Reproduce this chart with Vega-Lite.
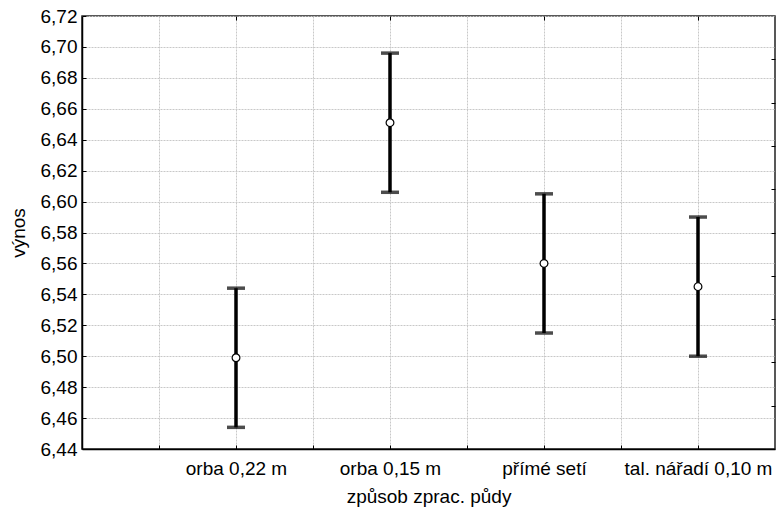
{
  "$schema": "https://vega.github.io/schema/vega-lite/v6.json",
  "autosize": {"type": "none"},
  "width": 693,
  "height": 433,
  "padding": {"left": 82, "top": 16, "right": 3, "bottom": 62},
  "background": "white",
  "config": {
    "font": "Liberation Sans",
    "view": {"stroke": "#222", "strokeWidth": 1.5},
    "axis": {
      "labelFont": "Liberation Sans",
      "titleFont": "Liberation Sans",
      "labelFontSize": 19,
      "titleFontSize": 19,
      "labelFontWeight": "normal",
      "titleFontWeight": "normal",
      "labelColor": "#000",
      "titleColor": "#000",
      "domainColor": "#000",
      "domainWidth": 1.5,
      "tickColor": "#000",
      "tickWidth": 1,
      "gridColor": "#c8c8c8",
      "gridDash": [2, 1],
      "gridWidth": 1
    }
  },
  "data": {
    "values": [
      {"zpusob": "orba 0,22 m", "mean": 6.499, "lo": 6.454, "hi": 6.544},
      {"zpusob": "orba 0,15 m", "mean": 6.651, "lo": 6.606, "hi": 6.696},
      {"zpusob": "přímé setí", "mean": 6.560, "lo": 6.515, "hi": 6.605},
      {"zpusob": "tal. nářadí 0,10 m", "mean": 6.545, "lo": 6.500, "hi": 6.590}
    ]
  },
  "resolve": {"axis": {"x": "independent", "y": "independent"}},
  "layer": [
    {
      "mark": {"type": "rule", "color": "#000", "strokeWidth": 3.5},
      "encoding": {
        "x": {
          "field": "zpusob",
          "type": "nominal",
          "sort": null,
          "scale": {"type": "point", "padding": 1, "domain": ["_1", "orba 0,22 m", "_2", "orba 0,15 m", "_3", "přímé setí", "_4", "tal. nářadí 0,10 m"]},
          "axis": {
            "orient": "bottom",
            "title": "způsob zprac. půdy",
            "labelAngle": 0,
            "grid": true,
            "tickSize": -4,
            "labelPadding": 14,
            "titlePadding": 9,
            "labelExpr": "indexof(datum.value, '_') == 0 ? '' : datum.value"
          }
        },
        "y": {
          "field": "lo",
          "type": "quantitative",
          "scale": {"domain": [6.44, 6.72], "nice": false, "zero": false},
          "axis": {
            "orient": "left",
            "title": "výnos",
            "values": [6.44, 6.46, 6.48, 6.5, 6.52, 6.54, 6.56, 6.58, 6.6, 6.62, 6.64, 6.66, 6.68, 6.7, 6.72],
            "labelExpr": "replace(format(datum.value, '.2f'), '.', ',')",
            "grid": true,
            "tickSize": -4,
            "labelPadding": 9,
            "titlePadding": 12
          }
        },
        "y2": {"field": "hi"}
      }
    },
    {
      "mark": {"type": "tick", "color": "#000", "size": 18, "thickness": 3.5},
      "encoding": {
        "x": {
          "field": "zpusob",
          "type": "nominal",
          "sort": null,
          "axis": {
            "orient": "top",
            "title": null,
            "labels": false,
            "grid": false,
            "domain": false,
            "tickSize": -4,
            "values": ["orba 0,22 m", "orba 0,15 m", "přímé setí", "tal. nářadí 0,10 m"]
          }
        },
        "y": {
          "field": "lo",
          "type": "quantitative",
          "axis": {
            "orient": "right",
            "title": null,
            "labels": false,
            "grid": false,
            "domain": false,
            "tickSize": -4,
            "values": [6.468, 6.496, 6.524, 6.552, 6.58, 6.608, 6.636, 6.664, 6.692]
          }
        }
      }
    },
    {
      "mark": {"type": "tick", "color": "#000", "size": 18, "thickness": 3.5},
      "encoding": {
        "x": {"field": "zpusob", "type": "nominal", "sort": null, "axis": null},
        "y": {"field": "hi", "type": "quantitative", "axis": null}
      }
    },
    {
      "mark": {"type": "point", "shape": "circle", "filled": true, "fill": "white", "stroke": "#000", "strokeWidth": 1.2, "size": 60, "opacity": 1},
      "encoding": {
        "x": {"field": "zpusob", "type": "nominal", "sort": null, "axis": null},
        "y": {"field": "mean", "type": "quantitative", "axis": null}
      }
    }
  ]
}
